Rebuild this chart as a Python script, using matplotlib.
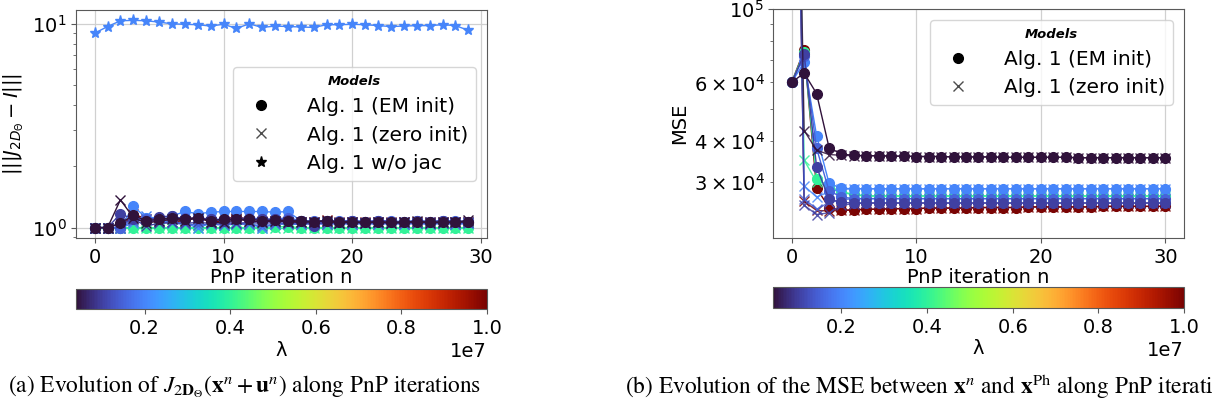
import numpy as np
import matplotlib
matplotlib.use("Agg")
import matplotlib.pyplot as plt
from matplotlib.colors import Normalize
from matplotlib.lines import Line2D

# ---------------- data ----------------
lambdas = [4e5, 1e6, 1.5e6, 2e6, 4e6, 1e7]

iters_a = list(range(30))
iters_b = list(range(31))

# (a) ||| J - I ||| ; EM init (o)
jac_em = [
    [1.0, 1.0, 1.05, 1.15, 1.08, 1.10, 1.12, 1.10, 1.12, 1.08, 1.10, 1.10, 1.10, 1.08, 1.09,
     1.08, 1.08, 1.07, 1.08, 1.07, 1.07, 1.06, 1.07, 1.06, 1.07, 1.06, 1.07, 1.06, 1.06, 1.07],
    [1.0, 1.0, 1.17, 1.10, 1.08, 1.13, 1.14, 1.10, 1.12, 1.10, 1.08, 1.10, 1.10, 1.10, 1.10,
     1.09, 1.08, 1.02, 1.08, 1.07, 1.08, 1.07, 1.08, 1.07, 1.06, 1.08, 1.07, 1.08, 1.07, 1.07],
    [1.0, 1.0, 1.0, 1.12, 1.10, 1.10, 1.10, 1.12, 1.10, 1.10, 1.10, 1.10, 1.12, 1.10, 1.10,
     1.12, 1.08, 1.08, 1.08, 1.08, 1.08, 1.07, 1.08, 1.08, 1.07, 1.08, 1.07, 1.08, 1.08, 1.07],
    [1.0, 1.0, 1.0, 1.27, 1.12, 1.12, 1.14, 1.20, 1.17, 1.19, 1.20, 1.20, 1.20, 1.20, 1.19,
     1.20, 1.08, 1.06, 1.08, 1.07, 1.08, 1.07, 1.08, 1.07, 1.07, 1.08, 1.07, 1.08, 1.07, 1.07],
    [1.0, 1.0, 1.0, 1.0, 1.0, 1.0, 1.0, 1.0, 1.0, 1.0, 1.0, 1.0, 1.0, 1.0, 1.01,
     1.01, 1.0, 1.0, 1.0, 1.0, 1.0, 1.0, 1.0, 1.0, 1.0, 1.0, 1.0, 1.0, 1.0, 1.0],
    [1.0, 1.0, 1.0, 1.15, 1.07, 1.08, 1.10, 1.10, 1.12, 1.08, 1.10, 1.13, 1.10, 1.10, 1.07,
     1.09, 1.08, 1.07, 1.08, 1.06, 1.07, 1.06, 1.06, 1.06, 1.05, 1.06, 1.05, 1.06, 1.05, 1.05],
]
# (a) zero init (x)
jac_zero = [
    [1.0, 1.0, 1.37, 1.12, 1.05, 1.08, 1.10, 1.08, 1.12, 1.07, 1.05, 1.10, 1.08, 1.07, 1.08,
     1.07, 1.06, 1.07, 1.08, 1.05, 1.07, 1.05, 1.07, 1.05, 1.06, 1.08, 1.05, 1.07, 1.06, 1.09],
    [1.0, 1.0, 1.05, 1.10, 1.02, 1.05, 1.06, 1.05, 1.06, 1.05, 1.06, 1.05, 1.06, 1.05, 1.06,
     1.05, 1.06, 1.05, 1.06, 1.05, 1.06, 1.05, 1.06, 1.05, 1.06, 1.05, 1.06, 1.05, 1.06, 1.06],
    [1.0, 1.0, 1.0, 1.08, 1.10, 1.06, 1.05, 1.04, 1.03, 1.04, 1.03, 1.04, 1.04, 1.02, 1.04,
     1.04, 1.04, 1.05, 1.04, 1.05, 1.04, 1.05, 1.04, 1.05, 1.04, 1.05, 1.04, 1.05, 1.04, 1.05],
    [1.0, 1.0, 1.0, 1.05, 1.14, 1.08, 1.06, 1.05, 1.0, 1.05, 1.03, 1.05, 1.04, 1.0, 1.04,
     1.05, 1.04, 1.05, 1.04, 1.05, 1.04, 1.05, 1.04, 1.05, 1.04, 1.05, 1.04, 1.05, 1.04, 1.05],
    [1.0, 1.0, 1.0, 1.0, 1.0, 1.0, 1.0, 1.0, 1.0, 1.0, 1.0, 1.0, 1.0, 1.0, 1.0,
     1.0, 1.0, 1.0, 1.0, 1.0, 1.0, 1.0, 1.0, 1.0, 1.0, 1.0, 1.0, 1.0, 1.0, 1.0],
    [1.0, 1.0, 1.0, 1.17, 1.10, 1.08, 1.07, 1.08, 1.12, 1.07, 1.07, 1.12, 1.07, 1.07, 1.08,
     1.07, 1.07, 1.06, 1.09, 1.06, 1.06, 1.07, 1.06, 1.06, 1.07, 1.06, 1.06, 1.07, 1.06, 1.06],
]
# (a) w/o jac (*), lambda = 2e6
jac_nojac_lambda = 2e6
jac_nojac = [9.0, 9.7, 10.35, 10.4, 10.35, 10.2, 10.0, 9.95, 9.9, 9.75, 9.95, 9.5, 10.0, 9.6, 9.75,
             9.7, 9.65, 9.6, 9.9, 9.9, 9.95, 9.9, 9.8, 9.7, 9.75, 9.8, 9.8, 9.9, 9.8, 9.3]

# (b) MSE ; EM init (o)
mse_em = [
    [6.0e4, 6.4e4, 5.55e4, 3.81e4, 3.64e4, 3.61e4, 3.60e4, 3.60e4, 3.59e4, 3.59e4, 3.58e4,
     3.58e4, 3.58e4, 3.57e4, 3.57e4, 3.57e4, 3.57e4, 3.56e4, 3.56e4, 3.56e4, 3.56e4, 3.56e4,
     3.56e4, 3.55e4, 3.55e4, 3.55e4, 3.55e4, 3.55e4, 3.55e4, 3.55e4, 3.55e4],
    [6.0e4, 7.3e4, 3.33e4, 2.66e4, 2.60e4, 2.59e4, 2.59e4, 2.59e4, 2.59e4, 2.59e4, 2.59e4,
     2.59e4, 2.59e4, 2.59e4, 2.59e4, 2.59e4, 2.59e4, 2.59e4, 2.59e4, 2.59e4, 2.59e4, 2.59e4,
     2.59e4, 2.59e4, 2.59e4, 2.59e4, 2.59e4, 2.59e4, 2.59e4, 2.59e4, 2.59e4],
    [6.0e4, 7.2e4, 3.79e4, 2.82e4, 2.70e4, 2.67e4, 2.67e4, 2.67e4, 2.67e4, 2.67e4, 2.67e4,
     2.67e4, 2.67e4, 2.67e4, 2.67e4, 2.67e4, 2.67e4, 2.67e4, 2.67e4, 2.67e4, 2.67e4, 2.67e4,
     2.67e4, 2.67e4, 2.67e4, 2.67e4, 2.67e4, 2.67e4, 2.67e4, 2.67e4, 2.67e4],
    [6.0e4, 6.9e4, 4.14e4, 2.97e4, 2.87e4, 2.86e4, 2.86e4, 2.86e4, 2.86e4, 2.86e4, 2.86e4,
     2.86e4, 2.86e4, 2.86e4, 2.86e4, 2.86e4, 2.86e4, 2.86e4, 2.86e4, 2.86e4, 2.86e4, 2.86e4,
     2.86e4, 2.86e4, 2.86e4, 2.86e4, 2.86e4, 2.86e4, 2.86e4, 2.86e4, 2.86e4],
    [6.0e4, 7.4e4, 3.06e4, 2.91e4, 2.80e4, 2.75e4, 2.72e4, 2.72e4, 2.72e4, 2.72e4, 2.72e4,
     2.72e4, 2.72e4, 2.72e4, 2.72e4, 2.72e4, 2.72e4, 2.72e4, 2.72e4, 2.72e4, 2.72e4, 2.72e4,
     2.72e4, 2.72e4, 2.72e4, 2.72e4, 2.72e4, 2.72e4, 2.72e4, 2.72e4, 2.72e4],
    [6.0e4, 7.5e4, 2.87e4, 2.51e4, 2.46e4, 2.47e4, 2.48e4, 2.48e4, 2.49e4, 2.49e4, 2.49e4,
     2.50e4, 2.50e4, 2.50e4, 2.50e4, 2.51e4, 2.51e4, 2.51e4, 2.51e4, 2.52e4, 2.52e4, 2.52e4,
     2.52e4, 2.52e4, 2.52e4, 2.53e4, 2.53e4, 2.53e4, 2.53e4, 2.53e4, 2.53e4],
]
# (b) zero init (x)
mse_zero = [
    [5e6, 4.29e4, 3.74e4, 3.63e4, 3.61e4, 3.60e4, 3.60e4, 3.60e4, 3.59e4, 3.59e4, 3.58e4,
     3.58e4, 3.58e4, 3.57e4, 3.57e4, 3.57e4, 3.57e4, 3.56e4, 3.56e4, 3.56e4, 3.56e4, 3.56e4,
     3.56e4, 3.55e4, 3.55e4, 3.55e4, 3.55e4, 3.55e4, 3.55e4, 3.55e4, 3.55e4],
    [5e6, 2.55e4, 2.39e4, 2.42e4, 2.55e4, 2.58e4, 2.59e4, 2.59e4, 2.59e4, 2.59e4, 2.59e4,
     2.59e4, 2.59e4, 2.59e4, 2.59e4, 2.59e4, 2.59e4, 2.59e4, 2.59e4, 2.59e4, 2.59e4, 2.59e4,
     2.59e4, 2.59e4, 2.59e4, 2.59e4, 2.59e4, 2.59e4, 2.59e4, 2.59e4, 2.59e4],
    [5e6, 2.67e4, 2.48e4, 2.60e4, 2.65e4, 2.67e4, 2.67e4, 2.67e4, 2.67e4, 2.67e4, 2.67e4,
     2.67e4, 2.67e4, 2.67e4, 2.67e4, 2.67e4, 2.67e4, 2.67e4, 2.67e4, 2.67e4, 2.67e4, 2.67e4,
     2.67e4, 2.67e4, 2.67e4, 2.67e4, 2.67e4, 2.67e4, 2.67e4, 2.67e4, 2.67e4],
    [5e6, 2.92e4, 2.70e4, 2.80e4, 2.85e4, 2.86e4, 2.86e4, 2.86e4, 2.86e4, 2.86e4, 2.86e4,
     2.86e4, 2.86e4, 2.86e4, 2.86e4, 2.86e4, 2.86e4, 2.86e4, 2.86e4, 2.86e4, 2.86e4, 2.86e4,
     2.86e4, 2.86e4, 2.86e4, 2.86e4, 2.86e4, 2.86e4, 2.86e4, 2.86e4, 2.86e4],
    [5e6, 3.49e4, 3.00e4, 2.88e4, 2.79e4, 2.74e4, 2.72e4, 2.72e4, 2.72e4, 2.72e4, 2.72e4,
     2.72e4, 2.72e4, 2.72e4, 2.72e4, 2.72e4, 2.72e4, 2.72e4, 2.72e4, 2.72e4, 2.72e4, 2.72e4,
     2.72e4, 2.72e4, 2.72e4, 2.72e4, 2.72e4, 2.72e4, 2.72e4, 2.72e4, 2.72e4],
    [5e6, 2.62e4, 2.46e4, 2.45e4, 2.46e4, 2.47e4, 2.48e4, 2.48e4, 2.49e4, 2.49e4, 2.49e4,
     2.50e4, 2.50e4, 2.50e4, 2.50e4, 2.51e4, 2.51e4, 2.51e4, 2.51e4, 2.52e4, 2.52e4, 2.52e4,
     2.52e4, 2.52e4, 2.52e4, 2.53e4, 2.53e4, 2.53e4, 2.53e4, 2.53e4, 2.53e4],
]

legend_labels = ["Alg. 1 (EM init)", "Alg. 1 (zero init)", "Alg. 1 w/o jac"]
cbar_ticks = [0.2e7, 0.4e7, 0.6e7, 0.8e7, 1.0e7]

# ---------------- style ----------------
plt.rcParams.update({
    "font.family": ["DejaVu Sans"],
    "axes.edgecolor": "0.35",
    "xtick.color": "0.35",
    "ytick.color": "0.35",
    "xtick.labelcolor": "black",
    "ytick.labelcolor": "black",
    "font.size": 14,
})

W, H = 1213, 405
fig = plt.figure(figsize=(W / 100, H / 100), dpi=100)

def fx(p):
    return p / W

def fy(p):
    return 1 - p / H

cmap = plt.get_cmap("turbo")
norm = Normalize(vmin=min(lambdas), vmax=max(lambdas))

# axes positions (pixels)
axA = fig.add_axes([fx(76), fy(238), fx(487 - 76), (238 - 10) / H])
axB = fig.add_axes([fx(773), fy(238), fx(1184 - 773), (238 - 9) / H])
caxA = fig.add_axes([fx(76), fy(309), fx(487 - 76), 20 / H])
caxB = fig.add_axes([fx(773), fy(308), fx(1184 - 773), 21 / H])

ms_o = 7
ms_x = 7

order = list(range(len(lambdas)))[::-1]

# ---- panel (a)
for i in order:
    c = cmap(norm(lambdas[i]))
    axA.plot(iters_a, jac_zero[i], marker="x", ms=ms_x, color=c, lw=1.0)
    axA.plot(iters_a, jac_em[i], marker="o", ms=ms_o, color=c, lw=1.0)
axA.plot(iters_a, jac_nojac, marker="*", ms=8, color=cmap(norm(jac_nojac_lambda)), lw=1.0)
axA.set_yscale("log")
axA.set_xticks([0, 10, 20, 30])
axA.set_xlabel("PnP iteration n", labelpad=1)
axA.set_ylabel(r"$|||J_{2D_\Theta}-I|||$")
axA.grid(True, color="#d0d0d0", lw=0.9)
axA.set_axisbelow(True)

# ---- panel (b)
for i in order:
    c = cmap(norm(lambdas[i]))
    axB.plot(iters_b, mse_zero[i], marker="x", ms=ms_x, color=c, lw=1.0, alpha=0.85)
    axB.plot(iters_b, mse_em[i], marker="o", ms=ms_o, color=c, lw=1.0)
axB.set_yscale("log")
axB.set_ylim(2.03e4, 1e5)
axB.set_xticks([0, 10, 20, 30])
axB.set_xlabel("PnP iteration n", labelpad=1)
axB.set_ylabel("MSE")
axB.grid(True, color="#d0d0d0", lw=0.9)
axB.set_axisbelow(True)

# legends
handles = [
    Line2D([], [], ls="none", marker="o", color="black", ms=7),
    Line2D([], [], ls="none", marker="x", color="0.3", ms=7),
    Line2D([], [], ls="none", marker="*", color="black", ms=8),
]
leg_kw = dict(title="Models", fontsize=14.5, handletextpad=1.25, handlelength=2.0,
              title_fontproperties={"weight": "bold", "style": "italic", "size": 9.5},
              framealpha=0.8, borderaxespad=0.55, labelspacing=0.45)
axA.legend(handles, legend_labels, loc="center right", **leg_kw)
axB.legend(handles[:2], legend_labels[:2], loc="upper right", **leg_kw)

# colorbars
sm = plt.cm.ScalarMappable(norm=norm, cmap=cmap)
for cax in (caxA, caxB):
    cb = fig.colorbar(sm, cax=cax, orientation="horizontal")
    cb.set_ticks(cbar_ticks)
    cb.set_label("λ", labelpad=2)
    cb.outline.set_linewidth(0.8)

# captions (caption b runs past the right edge, as in the reference)
fig.text(fx(8), fy(387), r"(a) Evolution of $J_{2\mathbf{D}_\Theta}(\mathbf{x}^n+\mathbf{u}^n)$ along PnP iterations",
         family="STIXGeneral", math_fontfamily="stix", fontsize=16.8, va="center", ha="left")
fig.text(fx(625), fy(387), r"(b) Evolution of the MSE between $\mathbf{x}^n$ and $\mathbf{x}^{\mathrm{Ph}}$ along PnP iterations",
         family="STIXGeneral", math_fontfamily="stix", fontsize=16.8, va="center", ha="left")

fig.savefig("out.png", dpi=100)
